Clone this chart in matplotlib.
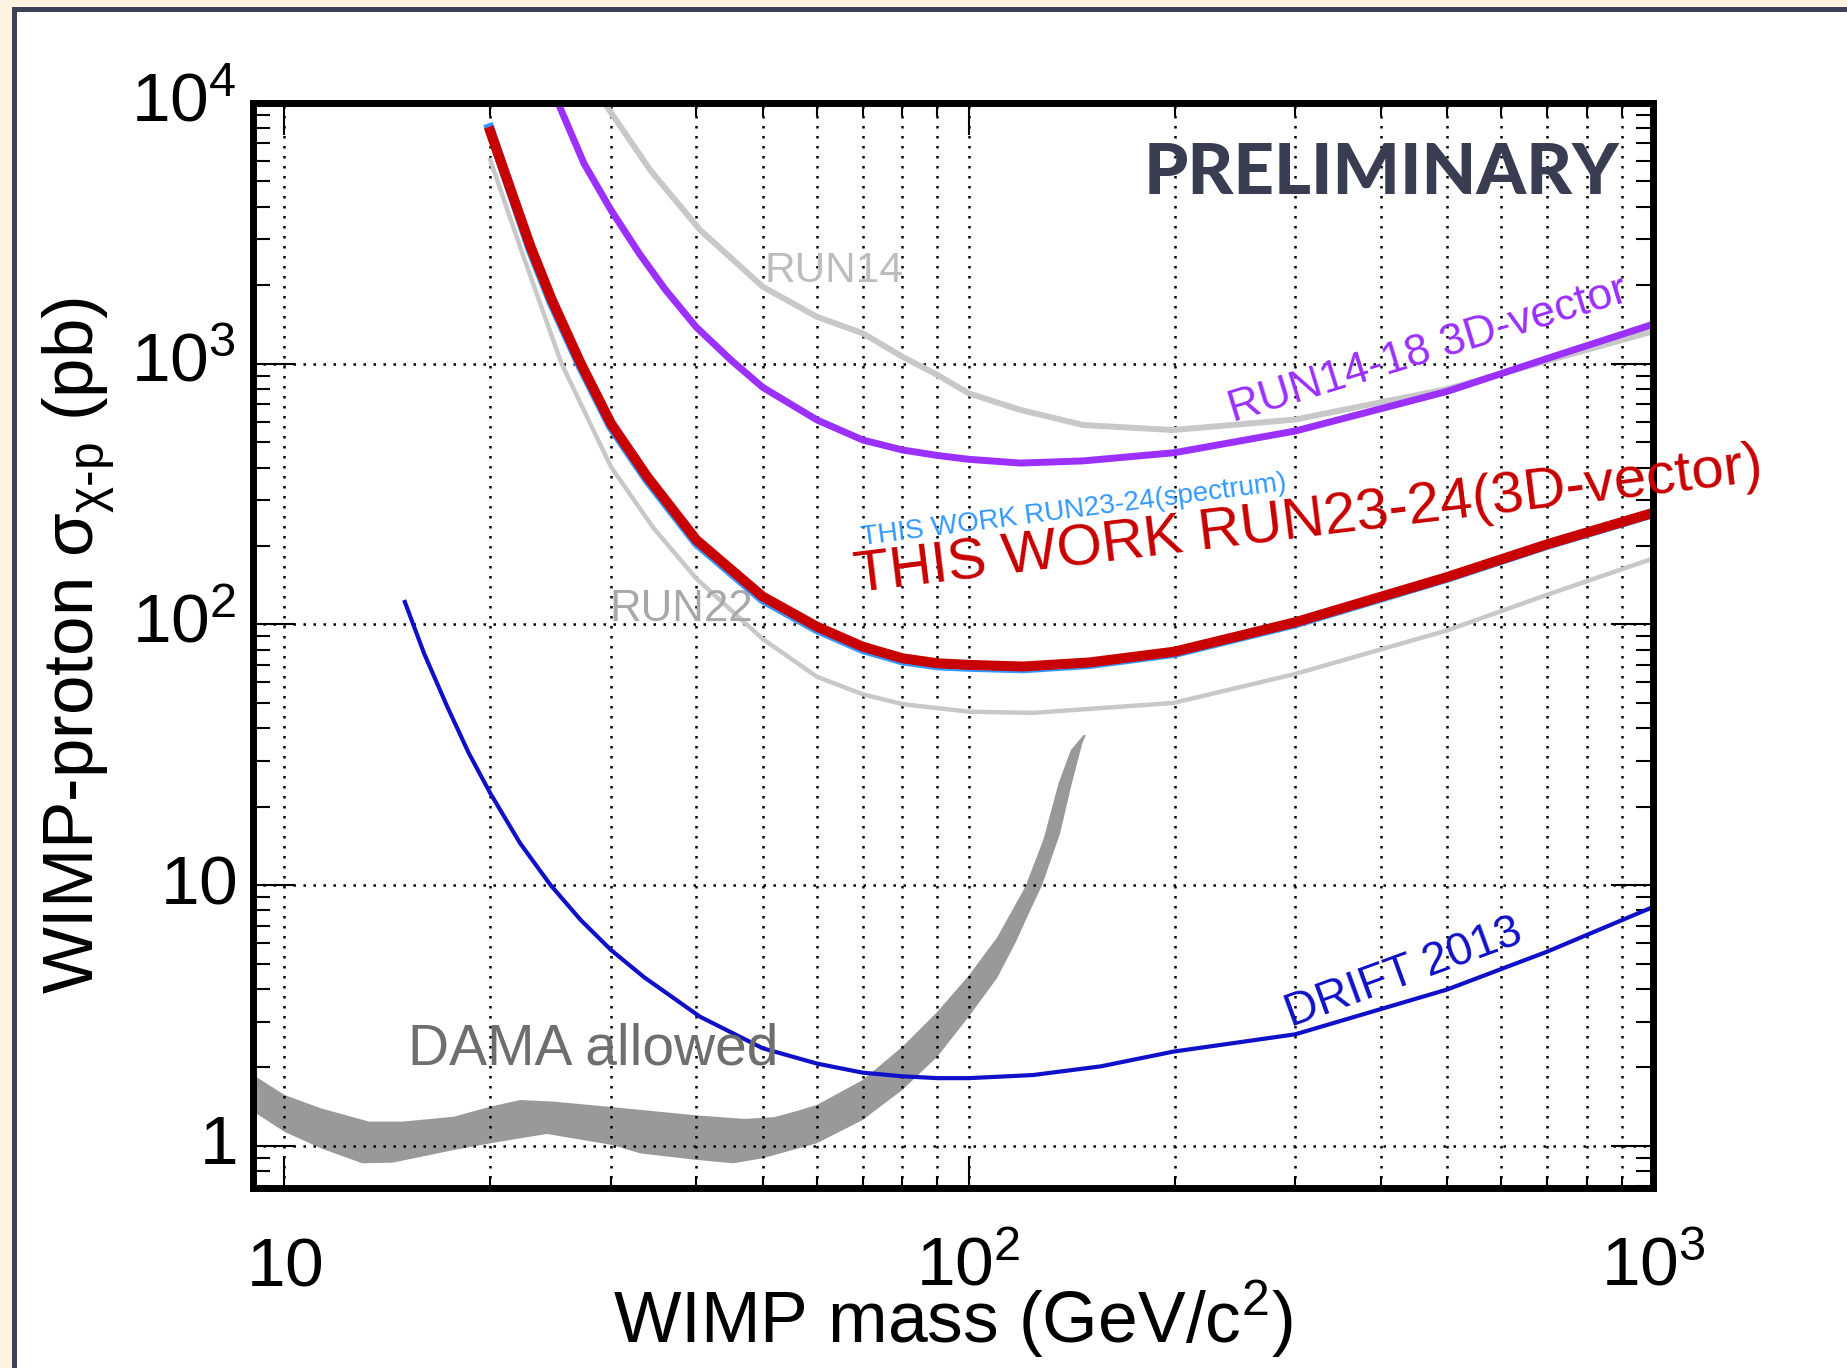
import matplotlib.pyplot as plt
import matplotlib.patches as mpatches
from matplotlib.ticker import LogLocator, NullFormatter

plt.rcParams['font.family'] = ['Liberation Sans', 'DejaVu Sans']
plt.rcParams['mathtext.fontset'] = 'custom'
plt.rcParams['mathtext.rm'] = 'Liberation Sans'
plt.rcParams['mathtext.it'] = 'Liberation Sans:italic'
plt.rcParams['mathtext.default'] = 'regular'

# WIMP mass (GeV/c^2) and cross-section limits (pb)
m_red = [20, 22.9, 24.6, 27.1, 30, 33.9, 40, 50, 60, 70, 80, 90, 100, 120, 150, 200, 300, 500, 700, 1000]
s_red = [7760, 2810, 1755, 1004, 591, 369, 211, 128, 98.1, 82.2, 74.2, 71.0, 70.0, 69.0, 71.5, 78.7, 102, 152, 203, 268]

m_spec = [19.95, 22.9, 24.6, 27.1, 30, 33.9, 40, 50, 60, 70, 80, 90, 100, 120, 150, 200, 300, 500, 700, 1000]
s_spec = [8000, 2740, 1710, 980, 577, 360, 206, 125, 96.0, 80.5, 72.8, 69.7, 68.8, 67.9, 70.5, 77.8, 101, 151, 202, 267]

m_run22 = [20, 22.1, 23.3, 25.4, 30, 34.6, 40, 50, 60, 70, 80, 100, 124, 199, 300, 500, 700, 1000]
s_run22 = [6040, 2810, 1900, 1004, 403, 235, 150, 88, 63, 54, 49.5, 46.3, 45.8, 50.0, 64.6, 94.9, 130, 179]

m_run1418 = [25.0, 27.4, 30, 33, 36, 40, 45, 50, 60, 70, 80, 90, 100, 119, 147, 200, 300, 500, 700, 1000]
s_run1418 = [10300, 5870, 3890, 2650, 1930, 1380, 1030, 812, 609, 510, 467, 445, 430, 416, 424, 456, 552, 783, 1047, 1417]

m_run14 = [29.2, 34.3, 40.5, 50, 60, 70, 80, 90, 100, 119, 147, 199, 300, 500, 700, 1000]
s_run14 = [10200, 5500, 3260, 1975, 1514, 1309, 1064, 906, 770, 665, 582, 557, 611, 800, 1026, 1331]

m_drift = [15, 16, 17.3, 18.6, 20, 22.1, 24.5, 27.1, 30, 33.5, 40.5, 50, 60, 70, 80, 90, 100, 124, 156, 199, 300, 500, 700, 1000]
s_drift = [122, 77.5, 48.4, 32.1, 22.5, 14.5, 10.0, 7.36, 5.65, 4.45, 3.13, 2.37, 2.07, 1.91, 1.85, 1.82, 1.82, 1.87, 2.02, 2.30, 2.68, 3.98, 5.56, 8.25]

# DAMA allowed region: upper and lower edges
m_dama_hi = [9.01, 10.0, 11.3, 13.3, 14.9, 17.7, 20.0, 22.1, 24.7, 30.1, 40, 47, 52, 56, 60, 70, 80, 90, 100, 110, 121, 128.6, 135.3, 141, 147.2]
s_dama_hi = [1.87, 1.57, 1.395, 1.24, 1.24, 1.295, 1.415, 1.50, 1.48, 1.41, 1.31, 1.27, 1.29, 1.36, 1.436, 1.79, 2.40, 3.27, 4.5, 6.3, 9.87, 15.0, 24.6, 33.0, 37.7]
m_dama_lo = [9.01, 10.0, 11.3, 13.0, 14.4, 17.7, 20.0, 24.2, 30.1, 33.1, 40, 45.3, 50, 60, 70, 80, 90, 100, 110, 117, 123, 128, 136, 141.5, 146.5, 148.3]
s_dama_lo = [1.354, 1.134, 0.98, 0.858, 0.863, 0.965, 1.024, 1.112, 1.009, 0.937, 0.884, 0.858, 0.897, 1.024, 1.258, 1.64, 2.20, 3.13, 4.4, 6.0, 8.0, 10.0, 15.8, 24.6, 34.9, 37.7]

xticks = [10, 100, 1000]
xticklabels = ['$10$', '$10^{2}$', '$10^{3}$']
yticks = [1, 10, 100, 1000, 10000]
yticklabels = ['$1$', '$10$', '$10^{2}$', '$10^{3}$', '$10^{4}$']

fig = plt.figure(figsize=(18.47, 13.68), dpi=100, facecolor='#fdf3e3')
frame = mpatches.Rectangle((13.5 / 1847, -0.1), 1.2, 1.1 - 9.5 / 1368,
                           transform=fig.transFigure, facecolor='white',
                           edgecolor='#3f4159', linewidth=3.6, zorder=-5)
fig.patches.append(frame)

ax = fig.add_axes([0.137, 0.1316, 0.758, 0.7931])
ax.set_facecolor('none')
ax.set_xscale('log')
ax.set_yscale('log')
ax.set_xlim(9.0, 1000)
ax.set_ylim(0.69, 10000)

ax.fill(m_dama_hi + m_dama_lo[::-1], s_dama_hi + s_dama_lo[::-1], color='#999999', lw=0, zorder=1)
ax.plot(m_run14, s_run14, color='#c8c8c8', lw=4.3, zorder=2)
ax.plot(m_run22, s_run22, color='#c8c8c8', lw=3.2, zorder=2)
ax.plot(m_run1418, s_run1418, color='#9b30ff', lw=5, zorder=2)
ax.plot(m_spec, s_spec, color='#3399ff', lw=7.2, zorder=2)
ax.plot(m_red, s_red, color='#c80000', lw=7.2, zorder=2)
ax.plot(m_drift, s_drift, color='#1010c8', lw=3.0, zorder=2)

# grid: dotted, all x decades + minors, y decades only
ax.set_axisbelow('line')
ax.grid(True, which='major', color='black', ls=(0, (1, 3)), lw=1.8)
ax.xaxis.grid(True, which='minor', color='black', ls=(0, (1, 3)), lw=1.8)

ax.set_xticks(xticks)
ax.set_xticklabels(xticklabels)
ax.set_yticks(yticks)
ax.set_yticklabels(yticklabels)
ax.xaxis.set_minor_locator(LogLocator(base=10, subs=range(2, 10), numticks=20))
ax.yaxis.set_minor_locator(LogLocator(base=10, subs=range(2, 10), numticks=20))
ax.xaxis.set_minor_formatter(NullFormatter())
ax.yaxis.set_minor_formatter(NullFormatter())

ax.tick_params(which='both', direction='in', top=True, right=True, width=1.5, labelsize=50)
ax.tick_params(axis='x', which='major', length=23, pad=70)
ax.tick_params(axis='x', which='minor', length=9)
ax.tick_params(axis='y', which='major', length=30, pad=12)
ax.tick_params(axis='y', which='minor', length=12)
for s in ax.spines.values():
    s.set_linewidth(5)

ax.set_xlabel('WIMP mass (GeV/c$^{2}$)', fontsize=51.5, va='baseline')
ax.xaxis.set_label_coords(0.5, -0.143)
ax.set_ylabel('WIMP-proton σ$_{χ\\text{-}p}$ (pb)', fontsize=51, va='center')
ax.yaxis.set_label_coords(-0.125, 0.5)

# annotations
ax.text(0.976, 0.935, 'PRELIMINARY', transform=ax.transAxes, ha='right', va='center',
        fontsize=51, fontweight='black', family='Lato', color='#3a3c52')
ax.text(0.415, 0.845, 'RUN14', transform=ax.transAxes, ha='center', va='center',
        fontsize=30.5, color='#bdbdbd')
ax.text(0.839, 0.772, 'RUN14-18 3D-vector', transform=ax.transAxes, ha='center', va='center',
        fontsize=32, color='#9b30ff', rotation=17, rotation_mode='anchor')
ax.text(0.586, 0.624, 'THIS WORK RUN23-24(spectrum)', transform=ax.transAxes, ha='center', va='center',
        fontsize=20, color='#3399ff', rotation=7.4, rotation_mode='anchor')
ax.text(0.754, 0.614, 'THIS WORK RUN23-24(3D-vector)', transform=ax.transAxes, ha='center', va='center',
        fontsize=42, color='#c80000', rotation=7, rotation_mode='anchor')
ax.text(0.306, 0.533, 'RUN22', transform=ax.transAxes, ha='center', va='center',
        fontsize=31.5, color='#a8a8a8')
ax.text(0.243, 0.128, 'DAMA allowed', transform=ax.transAxes, ha='center', va='center',
        fontsize=41, color='#6e6e6e')
ax.text(0.822, 0.198, 'DRIFT 2013', transform=ax.transAxes, ha='center', va='center',
        fontsize=33, color='#1010c8', rotation=20, rotation_mode='anchor')

for lab in ax.get_xticklabels():
    lab.set_verticalalignment('baseline')
for lab in ax.get_yticklabels():
    lab.set_verticalalignment('center')

fig.savefig('out.png', dpi=100, facecolor=fig.get_facecolor())
